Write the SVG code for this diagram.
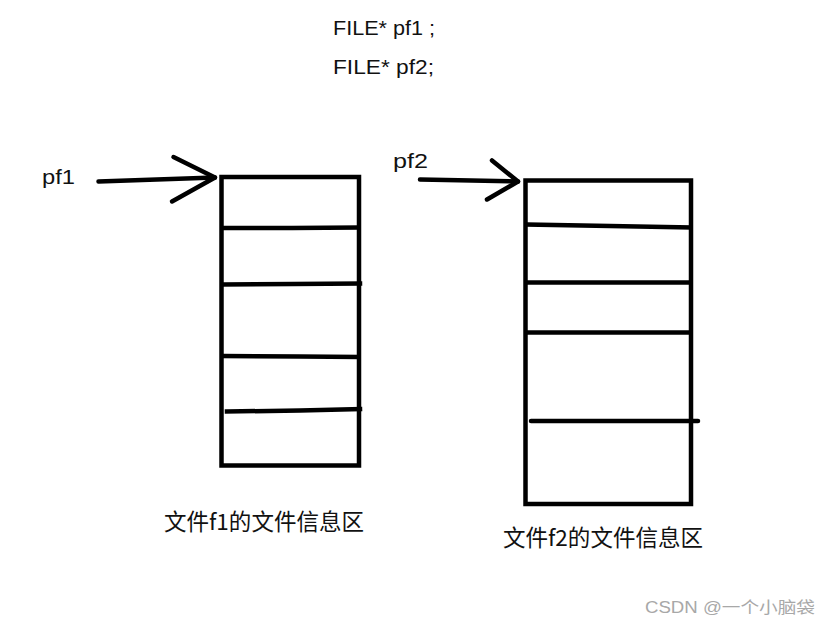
<svg xmlns="http://www.w3.org/2000/svg" width="831" height="625" viewBox="0 0 831 625">
<style>
.t{font-family:"Liberation Sans","Noto Sans CJK SC",sans-serif;fill:#111;font-size:21px}
.c{font-family:"Noto Sans CJK SC","Liberation Sans",sans-serif;fill:#111;font-size:22.5px}
.s{fill:none;stroke:#000;stroke-width:4.5;stroke-linecap:round;stroke-linejoin:round}
.b{fill:none;stroke:#000;stroke-width:4.5;stroke-linecap:square}
.wm{font-family:"Liberation Sans","Noto Sans CJK SC",sans-serif;fill:#a8a8a8;font-size:16px}
</style>
<rect width="831" height="625" fill="#fff"/>
<g id="decl">
<text class="t" x="333" y="35" textLength="102" lengthAdjust="spacingAndGlyphs">FILE* pf1 ;</text>
<text class="t" x="333" y="74" textLength="101" lengthAdjust="spacingAndGlyphs">FILE* pf2;</text>
</g>
<g id="label-pf1"><text class="t" x="42" y="184" textLength="33" lengthAdjust="spacingAndGlyphs">pf1</text></g>
<g id="label-pf2"><text class="t" x="393" y="168" textLength="35" lengthAdjust="spacingAndGlyphs">pf2</text></g>
<g id="box-f1">
<rect class="b" x="221.5" y="177" width="137.5" height="288.5"/>
<polyline class="b" points="223,228 292,228 358,227.5"/>
<polyline class="b" points="223,284.5 293,284 360,283.5"/>
<polyline class="b" points="223,356 300,356.5 358,357"/>
<polyline class="b" points="227,411.5 300,410.5 360,409"/>
<text class="c" x="164" y="530" textLength="200" lengthAdjust="spacingAndGlyphs">文件f1的文件信息区</text>
</g>
<g id="box-f2">
<rect class="b" x="525.5" y="180.5" width="165.5" height="323.5"/>
<polyline class="b" points="527,224.5 610,226 690,227.5"/>
<line class="b" x1="527" y1="282.5" x2="690" y2="282.5"/>
<line class="b" x1="527" y1="332.5" x2="690" y2="332.5"/>
<line class="s" x1="531" y1="421" x2="698" y2="421"/>
<text class="c" x="503" y="546" textLength="200" lengthAdjust="spacingAndGlyphs">文件f2的文件信息区</text>
</g>
<g id="connectors">
<polyline class="s" points="98.5,181.5 215,177.5"/>
<polyline class="s" points="173.5,157 215,177.5 172,201.5"/>
<polyline class="s" points="420,179.5 518,181.5"/>
<polyline class="s" points="492,160.5 518,181.5 487,199.5"/>
</g>
<text class="wm" x="645" y="613" textLength="170" lengthAdjust="spacingAndGlyphs">CSDN @一个小脑袋</text>
</svg>
